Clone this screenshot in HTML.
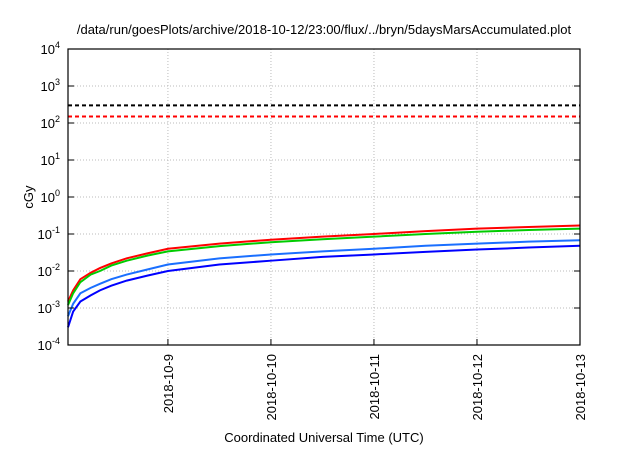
<!DOCTYPE html>
<html><head><meta charset="utf-8"><style>
body{margin:0;background:#fff;}
svg text{font-family:"Liberation Sans",sans-serif;fill:#000;}
</style></head><body>
<svg width="640" height="448" id="c">
<text x="324" y="34" font-size="13" text-anchor="middle">/data/run/goesPlots/archive/2018-10-12/23:00/flux/../bryn/5daysMarsAccumulated.plot</text>
<text x="324" y="442" font-size="13" text-anchor="middle">Coordinated Universal Time (UTC)</text>
<text x="0" y="0" font-size="13" text-anchor="middle" transform="translate(33,197) rotate(-90)">cGy</text>
<g id="grid"></g><g id="series"></g><g id="axes"></g>
</svg>
<script>
const yTickExps=[-4,-3,-2,-1,0,1,2,3,4];
const xTickDays=[1,2,3,4,5];
const xTickLabels=["2018-10-9","2018-10-10","2018-10-11","2018-10-12","2018-10-13"];
const days=[0.03,0.08,0.15,0.25,0.34,0.45,0.6,0.8,1,1.5,2,2.5,3,3.5,4,4.5,5];
const redVals=[0.0015,0.003,0.006,0.009,0.012,0.016,0.022,0.03,0.04,0.055,0.07,0.085,0.1,0.12,0.14,0.155,0.17];
const greenVals=[0.0012,0.0025,0.005,0.008,0.01,0.014,0.019,0.026,0.034,0.047,0.06,0.072,0.085,0.1,0.115,0.128,0.14];
const ltblueVals=[0.0006,0.0013,0.0025,0.0035,0.0045,0.006,0.008,0.011,0.015,0.022,0.028,0.034,0.04,0.048,0.055,0.062,0.068];
const blueVals=[0.0003,0.0008,0.0015,0.0022,0.003,0.004,0.0055,0.0075,0.01,0.015,0.019,0.024,0.028,0.033,0.038,0.043,0.048];
const thresholds=[300,150];
const L=68,R=580,T=49,B=345,D0=0.03,D1=5;
const xs=d=>L+(d-D0)/(D1-D0)*(R-L);
const ys=v=>B-(Math.log10(v)+4)/8*(B-T);
const NS="http://www.w3.org/2000/svg";
function mk(t,a,p){const e=document.createElementNS(NS,t);for(const k in a)e.setAttribute(k,a[k]);p.appendChild(e);return e;}
const g=document.getElementById('grid'),s=document.getElementById('series'),ax=document.getElementById('axes');
yTickExps.forEach(ex=>{const y=ys(Math.pow(10,ex));
 if(ex>-4&&ex<4){const l=mk('line',{x1:L,x2:R,y1:y,y2:y,stroke:'#bbb','stroke-dasharray':'1,2'},g);
 }
 const t1=mk('line',{x1:L,x2:L+6,y1:y,y2:y,stroke:'#000'},ax);
 const t2=mk('line',{x1:R-6,x2:R,y1:y,y2:y,stroke:'#000'},ax);
 const tx=mk('text',{x:L-8,y:y+5,'font-size':13,'text-anchor':'end'},ax);
 
 tx.innerHTML='10<tspan dy="-6" font-size="9">'+ex+'</tspan>';});
xTickDays.forEach((d,i)=>{const x=xs(d);
 if(d<5){const l=mk('line',{x1:x,x2:x,y1:T,y2:B,stroke:'#bbb','stroke-dasharray':'1,2'},g);
 }
 const t=mk('line',{x1:x,x2:x,y1:B-6,y2:B,stroke:'#000'},ax);
 const tx=mk('text',{'font-size':13,'text-anchor':'end',transform:`translate(${x+5},${B+9}) rotate(-90)`},ax);
 
 tx.textContent=xTickLabels[i];});
const thrColors=['#000','#f00'];
thresholds.forEach((v,i)=>{const y=ys(v);const l=mk('line',{x1:L,x2:R,y1:y,y2:y,stroke:thrColors[i],'stroke-width':2,'stroke-dasharray':'4,3'},s);
 });
[[redVals,'#f00','red-series'],[greenVals,'#0c0','green-series'],[ltblueVals,'#1a6fff','light-blue-series'],[blueVals,'#00f','blue-series']].forEach(([vals,c,n])=>{
 const p=mk('polyline',{points:days.map((d,i)=>xs(d)+','+ys(vals[i])).join(' '),fill:'none',stroke:c,'stroke-width':2},s);
 });
const f=mk('rect',{x:L,y:T,width:R-L,height:B-T,fill:'none',stroke:'#000','stroke-width':1.2},ax);

</script>
</body></html>
